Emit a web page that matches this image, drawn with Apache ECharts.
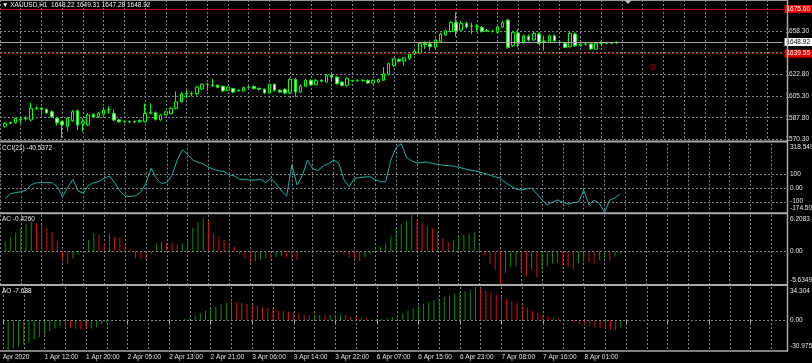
<!DOCTYPE html>
<html><head><meta charset="utf-8">
<script src="https://cdn.jsdelivr.net/npm/echarts@6/dist/echarts.min.js"></script>
<style>html,body{margin:0;padding:0;background:#000;}#c{width:812px;height:363px;}</style>
</head><body><div id="c"></div>
<script>
// ---------------- data ----------------
const titleText = '\u25BC XAUUSD,H1  1648.22 1649.31 1647.28 1648.92';
const timeTicks = ['Apr 2020','1 Apr 12:00','1 Apr 20:00','2 Apr 05:00','2 Apr 13:00','2 Apr 21:00','3 Apr 06:00','3 Apr 14:00','3 Apr 22:00','6 Apr 07:00','6 Apr 15:00','6 Apr 23:00','7 Apr 08:00','7 Apr 16:00','8 Apr 01:00'];
const tradingDays = [1,2,3,6,7,8,9];
const priceTickLabels = ['1570.30','1587.80','1605.30','1622.80','','1658.30',''];
const levelPrices = [1675.60, 1648.92, 1639.55];
const levelLabels = ['1675.60', '1648.92', '1639.55'];
const orderMarks = [[126, 1628.7]];

const opens = [1580.8,1583.3,1583.8,1586.8,1587.0,1586.0,1595.3,1595.5,1594.5,1592.6,1587.3,1584.6,1580.6,1585.4,1593.4,1583.0,1582.0,1590.5,1588.6,1590.5,1594.2,1591.3,1586.0,1584.6,1584.4,1584.6,1584.4,1584.6,1591.3,1591.8,1586.0,1590.0,1591.3,1595.3,1600.6,1607.3,1607.0,1607.3,1611.0,1614.8,1614.2,1614.0,1613.2,1610.0,1611.3,1609.5,1609.4,1612.2,1613.0,1611.5,1610.8,1607.8,1614.8,1610.0,1610.5,1607.8,1618.6,1608.6,1613.2,1618.0,1614.5,1618.0,1616.6,1622.0,1620.6,1616.6,1614.0,1617.8,1617.6,1618.0,1618.0,1615.8,1616.6,1618.0,1622.8,1630.0,1634.8,1633.5,1635.4,1639.4,1639.9,1647.9,1647.4,1644.7,1649.5,1654.8,1657.5,1664.7,1658.6,1663.9,1661.8,1661.5,1660.7,1658.2,1657.6,1656.7,1661.2,1666.6,1646.0,1656.2,1648.7,1653.6,1650.6,1655.4,1649.7,1648.7,1654.0,1649.0,1647.9,1645.2,1655.4,1646.0,1647.4,1647.4,1643.2,1647.9,1648.0,1648.0,1648.22];
const closes = [1583.3,1584.0,1587.2,1586.6,1587.5,1595.3,1595.6,1594.6,1591.8,1588.6,1583.8,1582.0,1587.3,1592.6,1581.9,1584.6,1590.0,1588.3,1591.3,1594.0,1594.5,1586.0,1584.6,1584.4,1584.6,1584.4,1585.6,1591.3,1592.0,1586.5,1590.0,1592.6,1595.3,1600.6,1607.3,1607.0,1607.6,1612.6,1614.8,1614.6,1614.0,1612.4,1609.4,1612.6,1608.6,1610.0,1612.2,1612.6,1611.5,1610.8,1607.8,1614.8,1610.0,1608.6,1607.8,1618.6,1608.6,1613.4,1618.0,1614.5,1618.0,1617.3,1622.0,1620.6,1615.4,1614.0,1619.4,1617.4,1618.0,1617.8,1615.8,1618.0,1618.6,1623.4,1631.4,1635.4,1633.5,1636.2,1639.4,1641.5,1647.9,1647.0,1645.2,1650.6,1655.4,1658.0,1664.7,1658.0,1663.9,1661.2,1662.1,1661.2,1657.5,1658.0,1657.5,1661.2,1664.5,1644.7,1656.7,1647.9,1654.0,1650.6,1655.9,1647.9,1649.3,1654.0,1650.0,1648.7,1644.7,1655.9,1646.0,1647.4,1647.2,1643.4,1647.9,1648.0,1648.2,1648.22,1648.92];
const lows = [1580.0,1582.5,1583.0,1583.3,1585.5,1585.0,1594.0,1590.0,1591.0,1587.5,1581.5,1571.5,1577.0,1584.5,1578.0,1576.6,1581.0,1587.5,1587.8,1589.5,1591.0,1585.0,1583.5,1583.5,1583.6,1583.4,1583.8,1584.0,1590.5,1585.5,1585.5,1589.5,1590.5,1594.5,1600.0,1603.3,1605.0,1606.0,1610.0,1609.5,1612.6,1611.5,1608.5,1609.0,1607.5,1608.8,1608.7,1611.5,1610.5,1609.8,1607.0,1607.0,1609.0,1608.0,1606.5,1607.0,1604.7,1608.0,1612.5,1613.5,1614.0,1616.5,1616.0,1616.6,1614.5,1613.0,1613.0,1616.5,1617.0,1617.0,1615.0,1615.2,1616.0,1617.5,1622.0,1629.0,1632.5,1630.0,1634.8,1638.5,1639.0,1643.4,1642.0,1644.0,1649.0,1654.0,1656.8,1653.2,1657.8,1660.0,1655.4,1658.0,1656.5,1657.0,1656.5,1656.0,1660.5,1643.4,1645.0,1644.7,1647.5,1649.5,1650.0,1647.0,1642.0,1648.0,1649.0,1647.5,1644.0,1644.5,1645.0,1645.0,1646.0,1642.5,1642.5,1647.0,1647.0,1647.2,1647.28];
const highs = [1584.0,1584.8,1588.0,1588.6,1589.0,1599.8,1597.0,1596.5,1595.5,1594.0,1588.5,1585.5,1588.5,1594.0,1594.5,1587.3,1591.5,1591.5,1592.5,1596.5,1597.0,1594.5,1587.0,1585.5,1585.5,1585.4,1586.5,1599.3,1599.3,1593.0,1591.0,1593.5,1596.5,1609.0,1608.5,1610.0,1609.0,1613.5,1615.5,1616.0,1619.3,1615.0,1614.0,1613.5,1612.0,1611.0,1613.0,1613.5,1614.0,1612.2,1611.5,1615.5,1615.5,1611.0,1611.5,1620.0,1620.0,1614.5,1619.5,1619.0,1619.0,1619.0,1623.0,1624.6,1621.5,1617.5,1620.5,1618.5,1619.0,1619.0,1618.8,1618.8,1619.5,1628.7,1632.5,1636.5,1635.8,1637.0,1640.5,1642.5,1649.0,1649.5,1650.0,1651.5,1656.5,1659.0,1666.0,1673.0,1666.0,1665.5,1664.7,1663.2,1661.8,1659.5,1658.5,1662.0,1666.0,1668.0,1658.0,1659.4,1655.0,1655.0,1657.0,1656.5,1654.0,1655.0,1655.0,1650.5,1649.0,1657.0,1656.5,1648.5,1648.5,1648.5,1648.8,1649.5,1649.0,1649.2,1649.31];

const cciValues = [-75,-40,-32,-26,-15,25,38,41,42,38,10,-62,5,63,-20,-37,22,40,48,70,87,40,-20,-57,-60,-55,-30,36,142,70,34,40,94,201,275,240,201,185,173,150,135,125,118,95,87,65,63,58,58,63,40,70,30,-20,-57,166,22,90,201,140,125,158,175,201,178,60,10,70,75,80,82,60,46,46,201,290,318.549,220,195,180,185,187,175,170,165,160,158,150,140,130,125,115,105,94,80,72,40,15,-5,-14,-5,0,-40,-85,-120,-100,-85,-100,-114,-105,-100,-14,-120,-85,-110,-174.505,-85,-70,-40.5372];
const acValues = [1.6,2.4,3.2,4.0,4.6,5.0,4.8,4.5,4.0,3.2,1.6,-1.5,-2.1,-1.2,-0.6,-0.3,1.9,3.1,2.8,1.4,3.0,2.5,2.2,1.35,0.3,-1.2,-1.3,-1.4,-0.5,1.35,1.6,1.5,1.35,1.06,1.35,1.9,4.0,5.0,5.6,5.2,3.1,2.5,1.9,1.35,0.78,-0.6,-1.2,-2.0,-1.75,-1.5,-1.2,-1.3,-1.0,-0.9,-1.1,-1.3,-1.5,-0.2,0.1,0.2,0.1,-0.1,0.0,0.1,-0.2,-0.6,-1.0,-1.4,-1.7,-1.0,-0.5,0.3,0.8,1.5,2.5,3.8,4.6,5.2,6.2083,5.4,4.8,4.3,3.9,3.3,2.2,1.6,1.9,2.5,2.8,3.0,3.2,1.1,-0.8,-2.1,-3.2,-5.6349,-3.8,-2.7,-2.6,-3.8,-4.4,-3.2,-4.4,-3.2,-2.6,-2.1,-2.0,-2.6,-2.7,-3.2,-2.1,-1.8,-1.9,-2.1,-1.5,-1.3,-1.6,-0.95,-0.426];
const aoValues = [-30.975,-29,-27,-25,-23,-20,-17,-14,-11,-8,-6,-6.5,-7.5,-8.5,-9,-9.5,-8.5,-7,-4,-2.5,-1.5,0.2,0.6,0.4,0.2,-0.3,-0.6,-0.9,-0.7,-0.5,-0.3,-0.1,0.2,0.6,1.5,2.8,5,7.5,10,12.5,14.5,16.5,18,19.2,19,18,16.8,15.5,14.5,13.5,12.8,12,11,10,9,8.2,7,5.7,5.4,5.6,5.8,5.5,5.7,6.0,6.2,5.8,4.0,3.4,2.6,2.0,1.2,1.4,1.8,2.4,3.3,4.5,7.5,10,12.5,14.7,17,19,20.7,22.4,24,25.5,27,28.5,30,31.5,34.304,33,31,29,26.5,24,22,20,18,15,13,10,8,6,4,2.8,1.6,0.4,-0.8,-2,-3.5,-4.5,-5.5,-7,-8.2,-9.3,-9.6,-9.9,-7.688];

const cciLevels = [100, 0, -100];
const cciRange = [-174.505, 318.549];
const acRange = [-5.6349, 6.2083];
const aoRange = [-30.975, 34.304];
const priceRange = [1570.3, 1682.9];
const priceStep = 17.5;

// ---------------- build ----------------
const categories = [];
for (const d of tradingDays) for (let h = 1; h <= 23; h++) {
  if (d === 1 && h < 4) continue;
  categories.push(d + ' Apr ' + String(h).padStart(2, '0') + ':00');
}
categories.length = 152;

const FONT = 'Liberation Sans';
const FS = 6.5;
const GRID_C = '#7d858e';
const GREEN = '#0d8f0d', RED = '#d01515';
const gridRight = 25;
const panes = [
  {top: 0, height: 139.4},
  {top: 143.7, height: 68.8},
  {top: 215, height: 69},
  {top: 287, height: 63.5}
];

const candleData = ['-'].concat(opens.map((o, i) => [o, closes[i], lows[i], highs[i]]));
const cciData = ['-'].concat(cciValues);
function histo(vals) {
  return ['-'].concat(vals.map((v, i) => ({
    value: v,
    itemStyle: {color: (i === 0 || v > vals[i - 1]) ? GREEN : RED}
  })));
}

const dashed = {color: GRID_C, type: [2, 2], width: 1};
function xAx(i, withLabels) {
  return {
    type: 'category', gridIndex: i, data: categories, boundaryGap: false,
    axisLine: {show: false},
    axisTick: withLabels ? {show: true, interval: 7, length: 3, lineStyle: {color: '#aaa'}} : {show: false},
    axisLabel: withLabels ? {
      show: true, interval: 7, align: 'left', margin: 3, fontSize: FS, fontFamily: FONT, color: '#e0e0e0',
      formatter: (v, idx) => (idx % 8 === 0 && timeTicks[idx / 8]) ? timeTicks[idx / 8] : ''
    } : {show: false},
    splitLine: {show: true, interval: 3, lineStyle: dashed}
  };
}

const chart = echarts.init(document.getElementById('c'), null, {renderer: 'canvas'});
const option = {
  backgroundColor: '#000',
  animation: false,
  grid: panes.map(p => ({left: 0, right: gridRight, top: p.top, height: p.height})),
  xAxis: [xAx(0, false), xAx(1, false), xAx(2, false), xAx(3, true)],
  yAxis: [
    {type: 'value', gridIndex: 0, position: 'right', min: priceRange[0], max: priceRange[1], interval: priceStep,
     axisLine: {show: false}, axisTick: {show: false},
     splitLine: {show: true, lineStyle: dashed},
     axisLabel: {show: true, margin: 3, fontSize: FS, fontFamily: FONT, color: '#e0e0e0', showMaxLabel: false,
       formatter: v => { const k = Math.round((v - priceRange[0]) / priceStep); return Math.abs(priceRange[0] + k * priceStep - v) < 0.01 ? (priceTickLabels[k] || '') : ''; }}},
    {type: 'value', gridIndex: 1, position: 'right', min: cciRange[0], max: cciRange[1],
     axisLine: {show: false}, axisTick: {show: false}, splitLine: {show: false}, axisLabel: {show: false}},
    {type: 'value', gridIndex: 2, position: 'right', min: acRange[0], max: acRange[1],
     axisLine: {show: false}, axisTick: {show: false}, splitLine: {show: false}, axisLabel: {show: false}},
    {type: 'value', gridIndex: 3, position: 'right', min: aoRange[0], max: aoRange[1],
     axisLine: {show: false}, axisTick: {show: false}, splitLine: {show: false}, axisLabel: {show: false}}
  ],
  series: [
    {type: 'candlestick', xAxisIndex: 0, yAxisIndex: 0, data: candleData, barWidth: 3,
     itemStyle: {color: '#000', color0: '#ffffff', borderColor: '#00ff00', borderColor0: '#00ff00', borderWidth: 1},
     markLine: {silent: true, symbol: ['none', 'none'], animation: false,
       data: levelPrices.map((p, i) => ({
         yAxis: p,
         lineStyle: i === 0 ? {color: '#d40000', width: 1, type: 'solid'} : (i === 1 ? {color: '#a8a8a8', width: 1, type: 'solid'} : {color: '#c00000', width: 1, type: [2, 2]}),
         label: {show: true, position: 'end', distance: 2, formatter: levelLabels[i], fontSize: FS, fontFamily: FONT,
           color: i === 1 ? '#000' : '#fff', backgroundColor: i === 1 ? '#fff' : '#e00000', padding: [1, 2, 0, 2]}
       }))}},
    {type: 'scatter', xAxisIndex: 0, yAxisIndex: 0, data: orderMarks, symbol: 'circle', symbolSize: 5,
     itemStyle: {color: 'rgba(0,0,0,0)', borderColor: '#a00000', borderWidth: 1.2}},
    {type: 'line', xAxisIndex: 1, yAxisIndex: 1, data: cciData, showSymbol: false, symbol: 'none',
     lineStyle: {color: '#20b2aa', width: 1},
     markLine: {silent: true, symbol: ['none', 'none'], label: {show: false}, lineStyle: dashed,
       data: cciLevels.map(v => ({yAxis: v}))}},
    {type: 'bar', xAxisIndex: 2, yAxisIndex: 2, data: histo(acValues), barWidth: 1,
     markLine: {silent: true, symbol: ['none', 'none'], label: {show: false}, lineStyle: dashed, data: [{yAxis: 0}]}},
    {type: 'bar', xAxisIndex: 3, yAxisIndex: 3, data: histo(aoValues), barWidth: 1,
     markLine: {silent: true, symbol: ['none', 'none'], label: {show: false}, lineStyle: dashed, data: [{yAxis: 0}]}}
  ]
};
chart.setOption(option);

// ---------- frame, captions and indicator scale labels ----------
const W = 812 - gridRight;
const sep = '#a9a9a9';
const g = [];
function hline(y, w, c) { g.push({type: 'line', shape: {x1: 0, y1: y, x2: W + 1, y2: y}, style: {stroke: c || sep, lineWidth: w || 2}, silent: true, z: 50}); }
hline(0.5, 1, '#9a9a9a');
hline(panes[0].top + panes[0].height + 2.2, 2);
hline(panes[1].top + panes[1].height + 0.8, 2);
hline(panes[2].top + panes[2].height + 1, 2);
hline(panes[3].top + panes[3].height + 0.6, 1.5);
g.push({type: 'line', shape: {x1: W + 0.5, y1: 0, x2: W + 0.5, y2: panes[3].top + panes[3].height + 1}, style: {stroke: sep, lineWidth: 1.5}, silent: true, z: 50});
g.push({type: 'polygon', shape: {points: [[624, 0], [632, 0], [628, 4]]}, style: {fill: '#bbb'}, silent: true, z: 51});

function txt(x, y, s, va, color) {
  g.push({type: 'text', x: x, y: y, silent: true, z: 60,
    style: {text: s, fill: color || '#e6e6e6', font: FS + 'px "' + FONT + '"', textVerticalAlign: va || 'middle', textAlign: 'left'}});
}
txt(2, 1.5, titleText, 'top', '#f0f0f0');
txt(2, panes[1].top + 1.5, 'CCI(21) ' + cciValues[cciValues.length - 1].toFixed(4), 'top');
txt(2, panes[2].top + 1, 'AC ' + acValues[acValues.length - 1].toFixed(4), 'top');
txt(2, panes[3].top + 1, 'AO ' + aoValues[aoValues.length - 1].toFixed(3), 'top');

const lx = W + 3;
function py(axis, v) { return chart.convertToPixel({yAxisIndex: axis}, v); }
txt(lx, py(1, cciRange[1]) + 0.5, '318.549', 'top');
txt(lx, py(1, 100), '100');
txt(lx, py(1, 0), '0.00');
txt(lx, py(1, -100) - 1, '-100');
txt(lx, py(1, cciRange[0]) - 0.5, '-174.505', 'bottom');
txt(lx, py(2, acRange[1]) + 0.5, '6.2083', 'top');
txt(lx, py(2, 0), '0.00');
txt(lx, py(2, acRange[0]) - 0.5, '-5.6349', 'bottom');
txt(lx, py(3, aoRange[1]) + 0.5, '34.304', 'top');
txt(lx, py(3, 0), '0.00');
txt(lx, py(3, aoRange[0]) - 0.5, '-30.975', 'bottom');

chart.setOption({graphic: g});
</script>
</body></html>
